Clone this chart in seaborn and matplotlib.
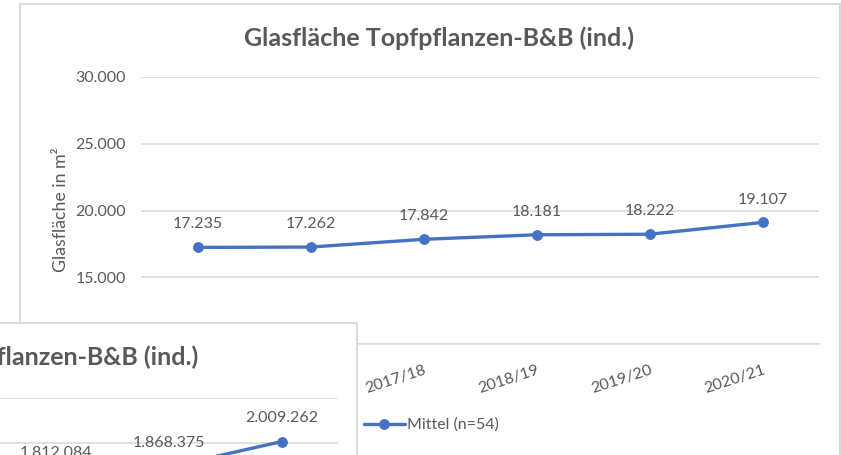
import matplotlib
matplotlib.use("Agg")
import matplotlib.pyplot as plt
import seaborn as sns
from matplotlib.patches import Rectangle

# data
jahre = ['2015/16', '2016/17', '2017/18', '2018/19', '2019/20', '2020/21']
glasflaeche = [17235, 17262, 17842, 18181, 18222, 19107]
serie_name = 'Mittel (n=54)'

# second chart window lying on top (only last three points visible)
jahre_pos2 = [3, 4, 5]
werte2 = [1812084, 1868375, 2009262]

W, H = 841, 455
blau = '#4472C4'
grau_text = '#595959'
grau_linie = '#D9D9D9'


def de(v):
    return f"{v:,.0f}".replace(',', '.')


def fx(x):
    return x / W


def fy(y):
    return 1 - y / H


sns.set_style('white')
plt.rcParams['font.family'] = ['Lato', 'DejaVu Sans']

fig = plt.figure(figsize=(W / 100, H / 100), dpi=100)

# main chart
ax = fig.add_axes([fx(141), fy(344), 678 / W, 267 / H])
pos = list(range(len(jahre)))
sns.lineplot(x=pos, y=glasflaeche, marker='o', color=blau, linewidth=2.4,
             markersize=7, markeredgecolor=blau, label=serie_name, ax=ax)
ax.set_xlim(-0.5, 5.5)
ax.set_ylim(10000, 30000)
ax.set_yticks([10000, 15000, 20000, 25000, 30000])
# 10.000 is hidden under the other window
ax.set_yticklabels([''] + [de(t) for t in ax.get_yticks()[1:]],
                   color=grau_text, fontsize=11.5)
ax.set_xticks(pos)
ax.set_xticklabels(jahre, rotation=18, ha='right', rotation_mode='anchor',
                   color=grau_text, fontsize=11.5)
ax.tick_params(axis='x', length=0, pad=14)
ax.tick_params(axis='y', length=0, pad=11)
ax.grid(axis='y', color=grau_linie, linewidth=1.1)
for s in ['top', 'right', 'left']:
    ax.spines[s].set_visible(False)
ax.spines['bottom'].set_color(grau_linie)
ax.spines['bottom'].set_linewidth(1.1)
ax.set_xlabel('')
ax.set_ylabel('')

for x, v in zip(pos, glasflaeche):
    ax.annotate(de(v), (x, v), xytext=(0, 16.5), textcoords='offset points',
                ha='center', va='center', fontsize=11.5, color=grau_text)

handles, labels = ax.get_legend_handles_labels()
ax.get_legend().remove()
fig.legend(handles, labels, loc='center', bbox_to_anchor=(fx(431), fy(425)),
           frameon=False, fontsize=11.5, handlelength=2.6, handletextpad=0.1,
           labelcolor=grau_text)

fig.text(fx(439), fy(38), 'Glasfläche Topfpflanzen-B&B (ind.)', ha='center',
         va='center', fontsize=18, fontweight='bold', color=grau_text)
fig.text(fx(61), fy(210), 'Glasfläche in m²', rotation=90, ha='center',
         va='center', fontsize=12.8, color=grau_text)

# chart border
fig.patches.append(Rectangle((fx(20), fy(600)), (840 - 20) / W, (600 - 4) / H,
                             transform=fig.transFigure, fill=False,
                             edgecolor=grau_linie, linewidth=1.4, zorder=0.5))

# overlapping second chart window
fig.patches.append(Rectangle((fx(-5), fy(470)), (357 + 5) / W, (470 - 323) / H,
                             transform=fig.transFigure, facecolor='white',
                             edgecolor=grau_linie, linewidth=1.4, zorder=1))

ax2 = fig.add_axes([fx(-339), fy(578), 677 / W, 180 / H])
ax2.set_zorder(2)
ax2.patch.set_visible(False)
sns.lineplot(x=jahre_pos2, y=werte2, marker='o', color=blau, linewidth=2.4,
             markersize=7, markeredgecolor=blau, ax=ax2)
ax2.set_xlim(-0.5, 5.5)
ax2.set_ylim(1250000, 2252000)
ax2.set_yticks([1250000, 1500000, 1750000, 2000000, 2250000])
ax2.grid(axis='y', color=grau_linie, linewidth=1.1)
ax2.tick_params(length=0, labelleft=False, labelbottom=False)
for s in ax2.spines.values():
    s.set_visible(False)
ax2.set_xlabel('')
ax2.set_ylabel('')
for x, v in zip(jahre_pos2, werte2):
    ax2.annotate(de(v), (x, v), xytext=(0, 17), textcoords='offset points',
                 ha='center', va='center', fontsize=11.5, color=grau_text,
                 annotation_clip=False)

fig.text(fx(198), fy(357), 'Topfpflanzen-B&B (ind.)', ha='right', va='center',
         fontsize=18, fontweight='bold', color=grau_text, zorder=3)

fig.savefig('out.png', dpi=100)
